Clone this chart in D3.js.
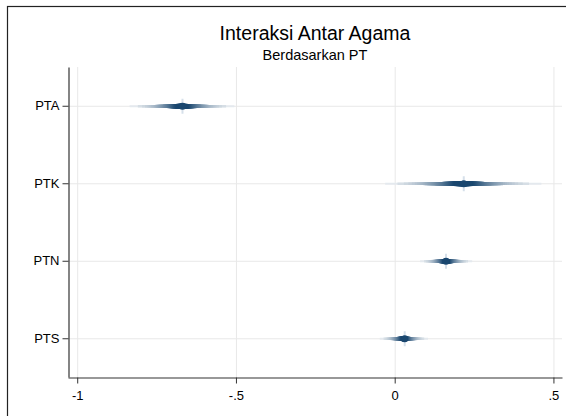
<!DOCTYPE html>
<html>
<head>
<meta charset="utf-8">
<script src="https://cdn.jsdelivr.net/npm/d3@7"></script>
<style>
    body { margin: 0; background: #fff; }
    svg { display: block; font-family: "Liberation Sans", Arial, sans-serif; }
</style>
</head>
<body>
<div id="container"></div>
<script>
// coefficient plot, smoothed CIs (like stata coefplot cismooth)
const categories = ["PTA", "PTK", "PTN", "PTS"];
const estimates = [-0.670, 0.216, 0.160, 0.030];
const ciLow99 = [-0.835, -0.030, 0.080, -0.047];
const ciHigh99 = [-0.505, 0.462, 0.244, 0.105];
const xTicks = [-1, -0.5, 0, 0.5];
const xTickLabels = ["-1", "-.5", "0", ".5"];

const width = 566, height = 416;
const margin = {top: 67, right: 4, bottom: 39, left: 68};
const navy = "#1a476f";

// inverse normal (Acklam approximation)
function probit(p) {
    const a = [-39.69683028665376, 220.9460984245205, -275.9285104469687, 138.3577518672690, -30.66479806614716, 2.506628277459239];
    const b = [-54.47609879822406, 161.5858368580409, -155.6989798598866, 66.80131188771972, -13.28068155288572];
    const c = [-0.007784894002430293, -0.3223964580411365, -2.400758277161838, -2.549732539343734, 4.374664141464968, 2.938163982698783];
    const d = [0.007784695709041462, 0.3224671290700398, 2.445134137142996, 3.754408661907416];
    const pl = 0.02425;
    let q, r;
    if (p < pl) {
        q = Math.sqrt(-2 * Math.log(p));
        return (((((c[0] * q + c[1]) * q + c[2]) * q + c[3]) * q + c[4]) * q + c[5]) /
            ((((d[0] * q + d[1]) * q + d[2]) * q + d[3]) * q + 1);
    }
    if (p > 1 - pl) return -probit(1 - p);
    q = p - 0.5;
    r = q * q;
    return (((((a[0] * r + a[1]) * r + a[2]) * r + a[3]) * r + a[4]) * r + a[5]) * q /
        (((((b[0] * r + b[1]) * r + b[2]) * r + b[3]) * r + b[4]) * r + 1);
}

const svg = d3.select("div#container")
    .append("svg")
    .attr("width", width)
    .attr("height", height);

svg.append("rect")
    .attr("width", width)
    .attr("height", height)
    .attr("fill", "#fff");

// outer frame (clipped on right / bottom like the original)
svg.append("rect")
    .attr("x", 7.5)
    .attr("y", 6.5)
    .attr("width", 570)
    .attr("height", 420)
    .attr("fill", "none")
    .attr("stroke", "#222")
    .attr("stroke-width", 1.2);

const x = d3.scaleLinear()
    .domain([-1.029, 0.527])
    .range([margin.left, width - margin.right]);

const y = d3.scalePoint()
    .domain(categories)
    .range([margin.top, height - margin.bottom])
    .padding(0.5);

// grid
svg.append("g")
    .selectAll("line")
    .data(xTicks)
    .enter()
    .append("line")
    .attr("x1", d => x(d) + 0.5)
    .attr("x2", d => x(d) + 0.5)
    .attr("y1", margin.top)
    .attr("y2", height - margin.bottom)
    .attr("stroke", "#e8e8e8")
    .attr("stroke-width", 1);

svg.append("g")
    .selectAll("line")
    .data(categories)
    .enter()
    .append("line")
    .attr("x1", margin.left)
    .attr("x2", width - margin.right)
    .attr("y1", d => y(d) + 0.5)
    .attr("y2", d => y(d) + 0.5)
    .attr("stroke", "#e8e8e8")
    .attr("stroke-width", 1);

// smoothed confidence intervals: 50 levels from 99% down to 1%
const nLevels = 50;
const levels = d3.range(nLevels).map(i => 99 - i * 98 / (nLevels - 1));
const z99 = probit(0.995);
const shade = d3.interpolateRgb("#ffffff", navy);

const ci = svg.append("g");
categories.forEach((cat, k) => {
    const se = (ciHigh99[k] - ciLow99[k]) / (2 * z99);
    const mid = (ciHigh99[k] + ciLow99[k]) / 2;
    levels.forEach((lev, i) => {
        const z = probit(0.5 + lev / 200);
        const t = i / (nLevels - 1);
        ci.append("line")
            .attr("x1", x(mid - z * se))
            .attr("x2", x(mid + z * se))
            .attr("y1", y(cat) + 0.5)
            .attr("y2", y(cat) + 0.5)
            .attr("stroke", shade(Math.min(1, 0.12 + 1.1 * Math.pow(t, 0.75))))
            .attr("stroke-width", 2.2 + 3.2 * t);
    });
});

// markers with faint vertical halo
svg.append("g")
    .selectAll("line")
    .data(categories)
    .enter()
    .append("line")
    .attr("x1", (d, i) => x(estimates[i]) + 0.5)
    .attr("x2", (d, i) => x(estimates[i]) + 0.5)
    .attr("y1", d => y(d) - 7)
    .attr("y2", d => y(d) + 8)
    .attr("stroke", "#d6e0ea")
    .attr("stroke-width", 2);

svg.append("g")
    .selectAll("circle")
    .data(categories)
    .enter()
    .append("circle")
    .attr("cx", (d, i) => x(estimates[i]) + 0.5)
    .attr("cy", d => y(d) + 0.5)
    .attr("r", 3.6)
    .attr("fill", navy);

// axes
const xAxis = svg.append("g")
    .attr("transform", `translate(0,${height - margin.bottom + 0.5})`)
    .call(d3.axisBottom(x)
        .tickValues(xTicks)
        .tickFormat((d, i) => xTickLabels[i])
        .tickSizeInner(6)
        .tickSizeOuter(0));

const yAxis = svg.append("g")
    .attr("transform", `translate(${margin.left + 0.5},0)`)
    .call(d3.axisLeft(y).tickSizeInner(6).tickSizeOuter(0));

[xAxis, yAxis].forEach(ax => {
    ax.select(".domain").attr("stroke", "#333").attr("stroke-width", 1.2);
    ax.selectAll(".tick line").attr("stroke", "#333");
    ax.selectAll(".tick text")
        .attr("fill", "#000")
        .attr("font-size", 13)
        .attr("font-family", "Liberation Sans, Arial, sans-serif");
});
xAxis.selectAll(".tick text").attr("dy", "1.05em");
yAxis.selectAll(".tick text").attr("x", -9);

// titles
const cx = (margin.left + width - margin.right) / 2;
svg.append("text")
    .attr("x", cx)
    .attr("y", 40)
    .attr("text-anchor", "middle")
    .attr("font-size", 19.5)
    .text("Interaksi Antar Agama");

svg.append("text")
    .attr("x", cx)
    .attr("y", 60)
    .attr("text-anchor", "middle")
    .attr("font-size", 14.5)
    .text("Berdasarkan PT");
</script>
</body>
</html>
